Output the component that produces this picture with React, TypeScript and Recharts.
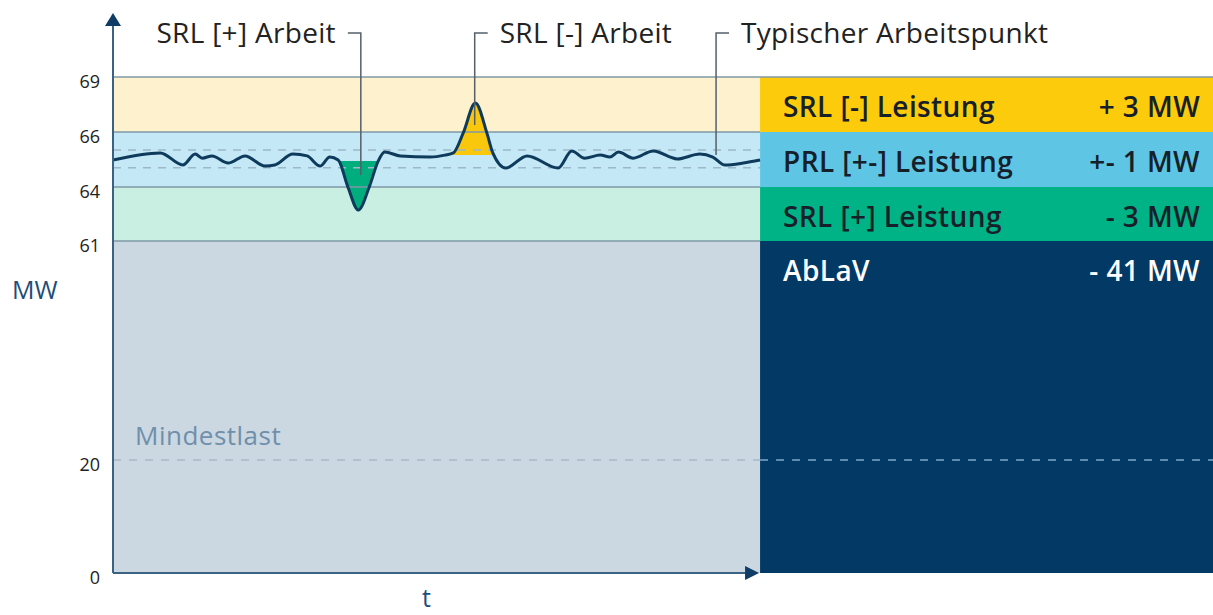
import React from "react";
import {
  ComposedChart,
  Line,
  Area,
  XAxis,
  YAxis,
  ReferenceArea,
  ReferenceLine,
} from "recharts";

// time axis, 0..100 = the drawn curve
const TIME = [
  0, 7.3, 10.8, 12.7, 13.8, 15.3, 17.8, 20.4, 23.5, 25.0, 27.8, 30.0, 32.0,
  33.5, 34.8, 36.3, 37.9, 39.6, 41.0, 42.0, 44.4, 49.0, 51.3, 52.6, 54.1, 56.0,
  57.8, 58.7, 60.7, 64.0, 68.8, 70.9, 72.9, 75.3, 76.8, 78.1, 80.4, 83.5, 87.2,
  90.7, 92.7, 94.6, 97.4, 100,
];
// load in MW
const LOAD = [
  64.98, 65.24, 64.8, 65.2, 65.05, 65.13, 64.87, 65.13, 64.76, 64.8, 65.2,
  65.13, 64.76, 65.09, 64.98, 64.0, 62.72, 64.0, 64.95, 65.27, 65.13, 65.09,
  65.16, 65.24, 65.95, 67.58, 65.95, 65.24, 64.69, 65.13, 64.69, 65.31, 65.05,
  65.16, 65.09, 65.27, 65.05, 65.31, 65.02, 65.2, 65.09, 64.8, 64.87, 64.98,
];

const TICKS_MW = [0, 20, 61, 64, 66, 69];
const MINDESTLAST = 20;
const PRL_DASH = [64.7, 65.35];

const BAND_FROM = [66, 64, 61, 0];
const BAND_TO = [69, 66, 64, 61];
const PANEL_LABELS = ["SRL [-] Leistung", "PRL [+-] Leistung", "SRL [+] Leistung", "AbLaV"];
const PANEL_VALUES = ["+ 3 MW", "+- 1 MW", "- 3 MW", "- 41 MW"];

const DIP_RANGE = [34.8, 41.0];
const DIP_BASE = 64.95;
const PEAK_RANGE = [52.6, 58.7];
const PEAK_BASE = 65.16;

const NOTE_LABELS = ["SRL [+] Arbeit", "SRL [-] Arbeit", "Typischer Arbeitspunkt"];
const NOTE_TIME = [38.3, 55.9, 93.2];
const NOTE_MW = [64.44, 66.38, 65.16];
const NOTE_SIDE = [-1, 1, 1];

// layout
const W = 1213;
const H = 615;
const FONT = "'Open Sans', Lato, sans-serif";
const AXIS_SPACING = [0, 113, 332, 386, 441, 496]; // schematic y axis, not linear
const PLOT_END = 100;
const PANEL_END = 170;
const LEADER_TOP = 540;
const ARROW_TOP = 560;

const BAND_LIGHT = ["#fdf2cd", "#c4e8f5", "#c9eee2", "#cbd7e1"];
const BAND_STRONG = ["#fccb0c", "#5ec6e4", "#00b386", "#023965"];
const PANEL_TEXT = ["#15202a", "#15202a", "#15202a", "#ffffff"];
const LINE_COLOR = "#0e3a5c";
const AXIS_COLOR = "#3b6283";
const ARROW_COLOR = "#0f3c66";

function toAxis(mw: number) {
  let i = 0;
  while (i < TICKS_MW.length - 2 && mw > TICKS_MW[i + 1]) i++;
  const a = TICKS_MW[i];
  const b = TICKS_MW[i + 1];
  const pa = AXIS_SPACING[i];
  const pb = AXIS_SPACING[i + 1];
  return pa + ((mw - a) / (b - a)) * (pb - pa);
}

const data = TIME.map((t, i) => ({
  t,
  load: toAxis(LOAD[i]),
  dip: t >= DIP_RANGE[0] && t <= DIP_RANGE[1] ? toAxis(Math.min(LOAD[i], DIP_BASE)) : null,
  peak: t >= PEAK_RANGE[0] && t <= PEAK_RANGE[1] ? toAxis(Math.max(LOAD[i], PEAK_BASE)) : null,
}));

const tickLabel = (v: number) => {
  const i = TICKS_MW.findIndex((m) => Math.abs(toAxis(m) - v) < 0.01);
  return i >= 0 ? String(TICKS_MW[i]) : "";
};

const MwLabel = (props: any) => {
  const vb = props.viewBox || { x: 0, y: 77 };
  return (
    <text x={vb.x + 12} y={vb.y + 222} fill="#1e4d78" fontSize={25} fontFamily={FONT}>
      MW
    </text>
  );
};

const YArrow = (p: any) => (
  <g>
    <line x1={p.x1} y1={p.y1} x2={p.x2} y2={p.y2 + 13} stroke={AXIS_COLOR} strokeWidth={2} />
    <polygon
      points={`${p.x2 - 8},${p.y2 + 13} ${p.x2 + 8},${p.y2 + 13} ${p.x2},${p.y2}`}
      fill={ARROW_COLOR}
    />
  </g>
);

const XArrow = (p: any) => (
  <g>
    <line x1={p.x1} y1={p.y1} x2={p.x2 - 14} y2={p.y2} stroke={AXIS_COLOR} strokeWidth={2} />
    <polygon
      points={`${p.x2 - 15},${p.y2 - 7} ${p.x2 - 15},${p.y2 + 7} ${p.x2 - 1},${p.y2}`}
      fill={ARROW_COLOR}
    />
    <text
      x={(p.x1 + p.x2) / 2 - 10}
      y={p.y1 + 34}
      textAnchor="middle"
      fill="#1e4d78"
      fontSize={25}
      fontFamily={FONT}
    >
      t
    </text>
  </g>
);

const leader = (i: number) => (p: any) => {
  const dir = NOTE_SIDE[i];
  return (
    <g>
      <polyline
        points={`${p.x1},${p.y1} ${p.x2},${p.y2} ${p.x2 + dir * 13},${p.y2}`}
        fill="none"
        stroke="#55606a"
        strokeWidth={1.5}
      />
      <text
        x={p.x2 + dir * 25}
        y={p.y2 + 10}
        textAnchor={dir < 0 ? "end" : "start"}
        fill="#222"
        fontSize={28}
        fontWeight={500}
        letterSpacing={0.3}
        fontFamily={FONT}
      >
        {NOTE_LABELS[i]}
      </text>
    </g>
  );
};

const panelLabel = (i: number) => (props: any) => {
  const vb = props.viewBox;
  return (
    <g fontFamily={FONT} fontSize={28} fontWeight={600} letterSpacing={0.4} fill={PANEL_TEXT[i]}>
      <text x={vb.x + 23} y={vb.y + 40}>{PANEL_LABELS[i]}</text>
      <text x={vb.x + vb.width - 13} y={vb.y + 40} textAnchor="end">
        {PANEL_VALUES[i]}
      </text>
    </g>
  );
};

const MindestLabel = (props: any) => {
  const vb = props.viewBox;
  return (
    <text
      x={vb.x + 22}
      y={vb.y - 15}
      fill="#6f8fab"
      fontSize={26}
      letterSpacing={0.5}
      fontFamily={FONT}
    >
      Mindestlast
    </text>
  );
};

export default function App() {
  return (
    <div style={{ position: "absolute", left: 0, top: 0, background: "#fff" }}>
      <ComposedChart
        width={W}
        height={H}
        data={data}
        margin={{ top: 77, right: 0, bottom: 42, left: 0 }}
      >
        <XAxis dataKey="t" type="number" domain={[0, PANEL_END]} hide />
        <YAxis
          type="number"
          domain={[0, AXIS_SPACING[AXIS_SPACING.length - 1]]}
          ticks={TICKS_MW.map(toAxis)}
          tickFormatter={tickLabel}
          width={113}
          axisLine={false}
          tickLine={false}
          tickSize={0}
          tickMargin={13}
          tick={{ fill: "#222", fontSize: 18, fontFamily: FONT, dy: 5 }}
          label={MwLabel}
        />

        {BAND_FROM.map((from, i) => (
          <ReferenceArea
            key={`l${i}`}
            x1={0}
            x2={PLOT_END}
            y1={toAxis(from)}
            y2={toAxis(BAND_TO[i])}
            fill={BAND_LIGHT[i]}
            fillOpacity={1}
            stroke="none"
            ifOverflow="visible"
          />
        ))}
        {BAND_FROM.map((from, i) => (
          <ReferenceArea
            key={`p${i}`}
            x1={PLOT_END}
            x2={PANEL_END}
            y1={toAxis(from)}
            y2={toAxis(BAND_TO[i])}
            fill={BAND_STRONG[i]}
            fillOpacity={1}
            stroke="none"
            ifOverflow="visible"
            label={panelLabel(i)}
          />
        ))}

        {[61, 64, 66, 69].map((m) => (
          <ReferenceLine
            key={`b${m}`}
            segment={[
              { x: 0, y: toAxis(m) },
              { x: m === 69 ? PANEL_END : PLOT_END, y: toAxis(m) },
            ]}
            stroke="#7f98a6"
            strokeWidth={1.5}
            ifOverflow="visible"
          />
        ))}
        {PRL_DASH.map((m) => (
          <ReferenceLine
            key={`d${m}`}
            segment={[
              { x: 0, y: toAxis(m) },
              { x: PLOT_END, y: toAxis(m) },
            ]}
            stroke="#9db8c8"
            strokeWidth={1.5}
            strokeDasharray="8 7"
            ifOverflow="visible"
          />
        ))}
        <ReferenceLine
          segment={[
            { x: 0, y: toAxis(MINDESTLAST) },
            { x: PLOT_END, y: toAxis(MINDESTLAST) },
          ]}
          stroke="#a6b9c8"
          strokeWidth={1.5}
          strokeDasharray="8 8"
          ifOverflow="visible"
          label={MindestLabel}
        />
        <ReferenceLine
          segment={[
            { x: PLOT_END, y: toAxis(MINDESTLAST) },
            { x: PANEL_END, y: toAxis(MINDESTLAST) },
          ]}
          stroke="#7fa6cb"
          strokeWidth={1.5}
          strokeDasharray="8 8"
          ifOverflow="visible"
        />

        <Area
          dataKey="dip"
          type="monotone"
          baseValue={toAxis(DIP_BASE)}
          fill="#00ad7d"
          fillOpacity={1}
          stroke="none"
          isAnimationActive={false}
        />
        <Area
          dataKey="peak"
          type="monotone"
          baseValue={toAxis(PEAK_BASE)}
          fill="#f9c70c"
          fillOpacity={1}
          stroke="none"
          isAnimationActive={false}
        />
        <Line
          dataKey="load"
          type="monotone"
          stroke={LINE_COLOR}
          strokeWidth={3}
          dot={false}
          activeDot={false}
          isAnimationActive={false}
        />

        {NOTE_TIME.map((t, i) => (
          <ReferenceLine
            key={`n${i}`}
            segment={[
              { x: t, y: toAxis(NOTE_MW[i]) },
              { x: t, y: LEADER_TOP },
            ]}
            ifOverflow="visible"
            shape={leader(i)}
          />
        ))}

        <ReferenceLine
          segment={[
            { x: 0, y: 0 },
            { x: 0, y: ARROW_TOP },
          ]}
          ifOverflow="visible"
          shape={YArrow}
        />
        <ReferenceLine
          segment={[
            { x: 0, y: 0 },
            { x: PLOT_END, y: 0 },
          ]}
          ifOverflow="visible"
          shape={XArrow}
        />
      </ComposedChart>
    </div>
  );
}
